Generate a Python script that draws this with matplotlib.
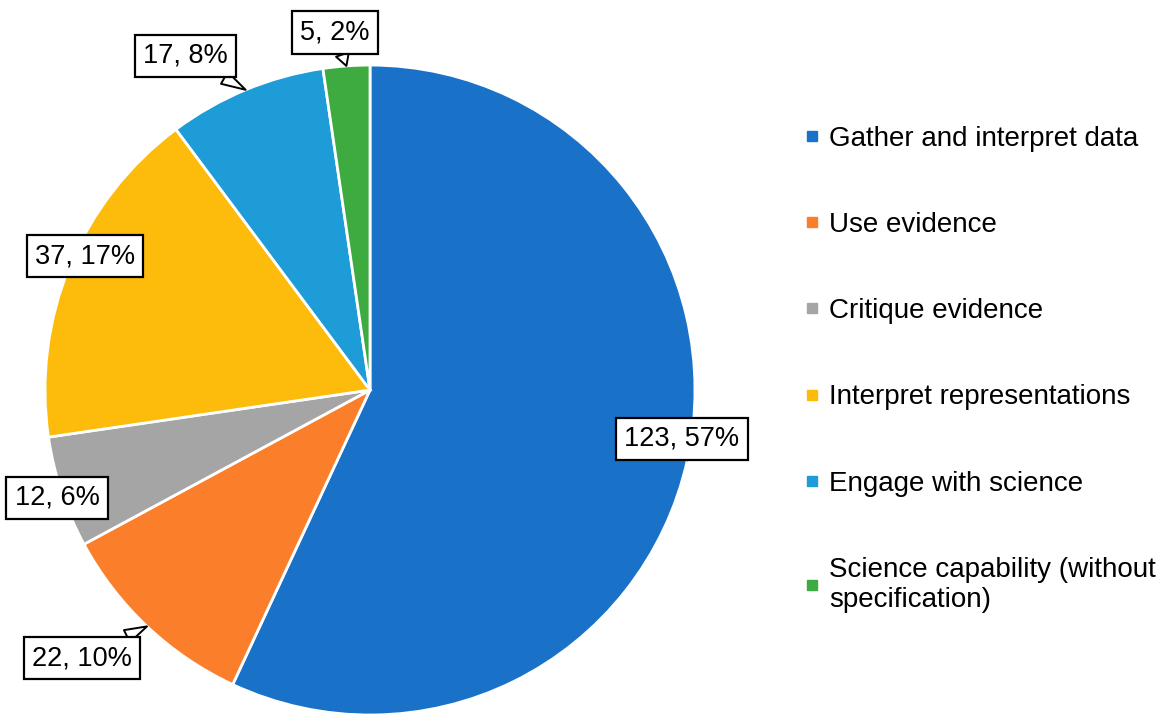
import numpy as np
import matplotlib.pyplot as plt

plt.rcParams['font.family'] = ['Liberation Sans', 'DejaVu Sans']

categories = ['Gather and interpret data', 'Use evidence', 'Critique evidence',
              'Interpret representations', 'Engage with science',
              'Science capability (without\nspecification)']
counts = [123, 22, 12, 37, 17, 5]
percents = [57, 10, 6, 17, 8, 2]
colors = ['#1a72c8', '#fb7f2a', '#a5a5a5', '#fdbb0b', '#1e9cd8', '#3dab3f']

# label box centres (in pie-radius units) and whether a pointer is drawn
label_pos = [(0.96, -0.15), (-0.886, -0.825), (-0.963, -0.332),
             (-0.877, 0.412), (-0.569, 1.028), (-0.108, 1.10)]
has_pointer = [True, True, False, False, True, True]

fig = plt.figure(figsize=(11.65, 7.15), dpi=100)
ax = fig.add_axes([0.0386, 0.0, 0.558, 0.909])

wedges, _ = ax.pie(counts, colors=colors, startangle=90, counterclock=False,
                   radius=1.0, wedgeprops=dict(edgecolor='white', linewidth=2))
ax.set_xlim(-1, 1)
ax.set_ylim(-1, 1)
ax.set_aspect('equal')

for w, c, p, pos, ptr in zip(wedges, counts, percents, label_pos, has_pointer):
    mid = np.deg2rad((w.theta1 + w.theta2) / 2)
    tip = (np.cos(mid), np.sin(mid))
    bbox = dict(boxstyle='square,pad=0.3', fc='white', ec='black', lw=1.6)
    if ptr:
        ax.annotate(f'{c}, {p}%', xy=tip, xytext=pos, ha='center', va='center',
                    fontsize=19.5, bbox=bbox, annotation_clip=False,
                    arrowprops=dict(arrowstyle='wedge,tail_width=0.5,shrink_factor=0.5',
                                    fc='white', ec='black', lw=1.4,
                                    shrinkA=0, shrinkB=0))
    else:
        ax.text(pos[0], pos[1], f'{c}, {p}%', ha='center', va='center',
                fontsize=19.5, bbox=bbox, clip_on=False)

handles = [plt.Line2D([], [], marker='s', linestyle='none', color=col,
                      markersize=7.5) for col in colors]
fig.legend(handles, categories, loc='upper left', bbox_to_anchor=(0.677, 0.84),
           frameon=False, fontsize=20, labelspacing=2.17, handletextpad=0.15,
           handlelength=0.9, borderaxespad=0)

fig.savefig('out.png', dpi=100)
